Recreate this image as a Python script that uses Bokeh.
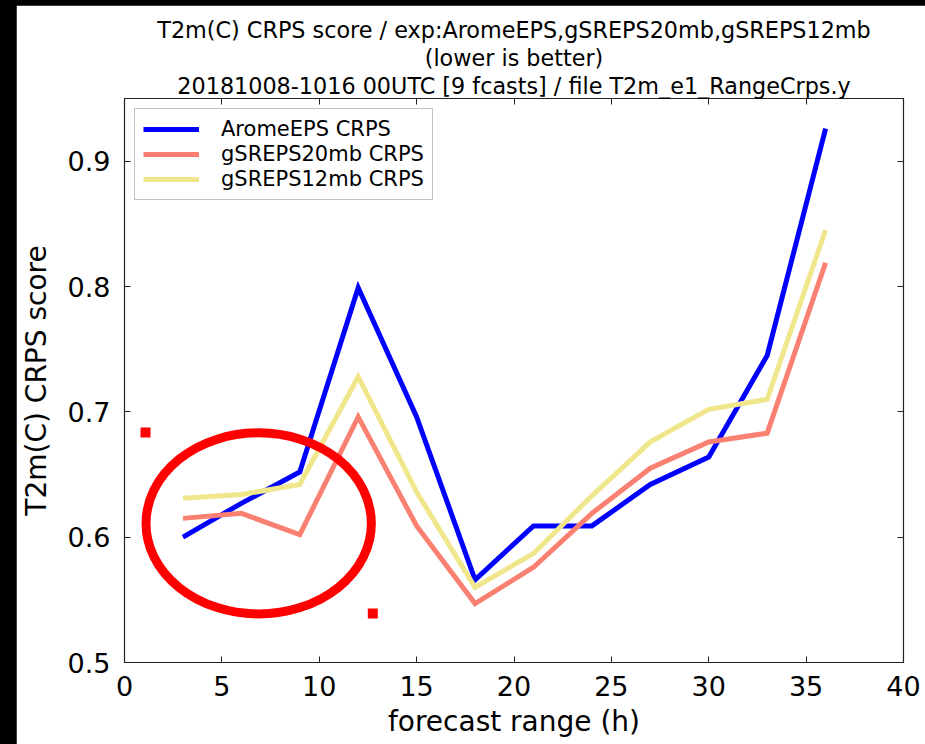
from bokeh.plotting import figure
from bokeh.models import (Title, LinearAxis, FixedTicker, CustomJSTickFormatter,
                          Range1d, Legend, LegendItem)
from bokeh.layouts import column
from bokeh.embed import file_html
from bokeh.resources import INLINE

# ---- data ----
hours = [3, 6, 9, 12, 15, 18, 21, 24, 27, 30, 33, 36]
arome = [0.600, 0.627, 0.652, 0.799, 0.696, 0.566, 0.609, 0.609, 0.642, 0.664, 0.745, 0.926]
sreps20 = [0.615, 0.619, 0.602, 0.696, 0.609, 0.547, 0.576, 0.619, 0.655, 0.676, 0.683, 0.819]
sreps12 = [0.631, 0.634, 0.642, 0.728, 0.636, 0.560, 0.587, 0.633, 0.676, 0.702, 0.710, 0.845]
series_names = ["AromeEPS CRPS", "gSREPS20mb CRPS", "gSREPS12mb CRPS"]
x_ticks = [0, 5, 10, 15, 20, 25, 30, 35, 40]
y_ticks = [0.5, 0.6, 0.7, 0.8, 0.9]

# hand-drawn annotation marks (data space)
ellipse_x = [6.89]
ellipse_y = [0.611]
ellipse_w = [11.57]
ellipse_h = [0.1445]
dots_x = [1.08, 12.75]
dots_y = [0.6836, 0.539]

title_lines = ["T2m(C) CRPS score / exp:AromeEPS,gSREPS20mb,gSREPS12mb",
               "(lower is better)",
               "20181008-1016 00UTC [9 fcasts] / file T2m_e1_RangeCrps.y"]

FONT = "DejaVu Sans"

p = figure(width=909, height=739, output_backend="svg", toolbar_location=None,
           x_range=Range1d(0, 40), y_range=Range1d(0.5, 0.95),
           min_border_left=106, min_border_right=22, min_border_top=93, min_border_bottom=82,
           margin=(5, 0, 0, 16))
p.background_fill_color = "white"
p.border_fill_color = "white"
p.outline_line_color = "#222222"
p.outline_line_width = 1.2
p.grid.visible = False
p.title = None

colors = ["#0000ff", "#fa8072", "#f0e68c"]
renderers = []
for ys, c in zip([arome, sreps20, sreps12], colors):
    r = p.line(hours, ys, line_color=c, line_width=5, line_join="miter")
    renderers.append(r)

p.ellipse(x=ellipse_x, y=ellipse_y, width=ellipse_w, height=ellipse_h,
          fill_color=None, line_color="#ff0000", line_width=9)
p.scatter(dots_x, dots_y, marker="square", size=10, fill_color="#ff0000", line_color=None)

# main axes
for ax in (p.xaxis[0], p.yaxis[0]):
    ax.major_tick_in = 6
    ax.major_tick_out = 0
    ax.minor_tick_line_color = None
    ax.axis_line_color = "#222222"
    ax.major_tick_line_color = "#222222"
    ax.major_label_text_font = FONT
    ax.major_label_text_font_size = "27px"
    ax.major_label_text_color = "black"
    ax.axis_label_text_font = FONT
    ax.axis_label_text_font_size = "28px"
    ax.axis_label_text_font_style = "normal"
    ax.axis_label_text_color = "black"
p.xaxis[0].ticker = FixedTicker(ticks=x_ticks)
p.yaxis[0].ticker = FixedTicker(ticks=y_ticks)
p.xaxis[0].axis_label = "forecast range (h)"
p.yaxis[0].axis_label = "T2m(C) CRPS score"
p.xaxis[0].major_label_standoff = 13
p.yaxis[0].major_label_standoff = 14
p.xaxis[0].axis_label_standoff = 6
p.yaxis[0].axis_label_standoff = 12

# mirrored tick axes (top/right)
empty = CustomJSTickFormatter(code="return ''")
top = LinearAxis(ticker=FixedTicker(ticks=x_ticks), formatter=empty)
right = LinearAxis(ticker=FixedTicker(ticks=y_ticks), formatter=empty)
for ax in (top, right):
    ax.major_tick_in = 6
    ax.major_tick_out = 0
    ax.minor_tick_line_color = None
    ax.axis_line_color = "#222222"
    ax.major_tick_line_color = "#222222"
    ax.major_label_text_font_size = "1px"
    ax.major_label_standoff = 0
p.add_layout(top, "above")
p.add_layout(right, "right")

# titles (inner-most line added first)
for t in reversed(title_lines):
    p.add_layout(Title(text=t, align="center", text_font=FONT, text_font_size="22.3px",
                       text_font_style="normal", text_color="black",
                       text_line_height=0.87, standoff=0, offset=0), "above")

legend = Legend(items=[LegendItem(label=n, renderers=[r]) for n, r in zip(series_names, renderers)],
                location="top_left", margin=10, padding=8, spacing=1,
                glyph_width=56, glyph_height=20, label_height=20, label_standoff=22,
                label_text_font=FONT, label_text_font_size="21px", label_text_color="black",
                border_line_color="#888888", border_line_width=1.2,
                background_fill_color="white", background_fill_alpha=1)
p.add_layout(legend)

layout = column(p, styles={"background-color": "black"})
open("out.html", "w").write(file_html(layout, INLINE))
